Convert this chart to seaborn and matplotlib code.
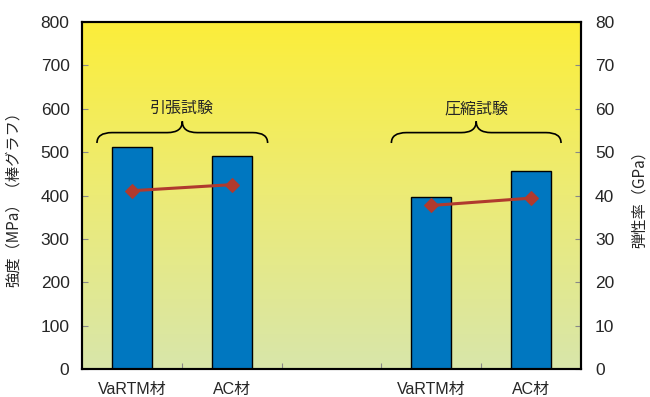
import numpy as np
import pandas as pd
import matplotlib
matplotlib.use("Agg")
import matplotlib.pyplot as plt
from matplotlib.path import Path
from matplotlib.patches import PathPatch
from matplotlib.colors import LinearSegmentedColormap
import seaborn as sns

# --- data ---------------------------------------------------------------
slots = ["引張_VaRTM", "引張_AC", "空白", "圧縮_VaRTM", "圧縮_AC"]
slot_labels = ["VaRTM材", "AC材", "", "VaRTM材", "AC材"]
bar_slots = ["引張_VaRTM", "引張_AC", "圧縮_VaRTM", "圧縮_AC"]
tests = ["引張試験", "引張試験", "圧縮試験", "圧縮試験"]
strength_mpa = [511, 492, 397, 456]
modulus_gpa = [41.1, 42.5, 37.7, 39.4]
group_titles = ["引張試験", "圧縮試験"]

left_ticks = list(range(0, 801, 100))
right_ticks = list(range(0, 81, 10))

df = pd.DataFrame({"slot": bar_slots, "test": tests,
                   "strength": strength_mpa, "modulus": modulus_gpa})
df["pos"] = [slots.index(s) for s in df["slot"]]

# --- style --------------------------------------------------------------
sns.set_theme(style="white")
plt.rcParams["font.family"] = ["Liberation Sans", "Noto Sans CJK JP"]
cjk = ["Noto Sans CJK JP", "Liberation Sans"]

fig = plt.figure(figsize=(6.5, 3.97), dpi=100)
ax = fig.add_axes([82 / 650, 28 / 397, 499 / 650, 347 / 397])

# yellow-to-pale-green background gradient
grad = np.linspace(0, 1, 256).reshape(-1, 1)
cmap = LinearSegmentedColormap.from_list("bg", ["#d8e6aa", "#eceb76", "#fcee3a"])
ax.imshow(grad, cmap=cmap, aspect="auto", origin="lower",
          extent=[0, 1, 0, 1], transform=ax.transAxes, zorder=0)

# strength bars
sns.barplot(data=df, x="slot", y="strength", order=slots, ax=ax,
            color="#0077c0", saturation=1, width=0.4,
            edgecolor="black", linewidth=1.0, zorder=2)

ax.set_xlim(-0.5, 4.5)
ax.set_ylim(0, 800)
ax.set_yticks(left_ticks)
ax.set_xticks(range(len(slots)))
ax.set_xticklabels(slot_labels, fontsize=11.5)
ax.set_xticks([0.5, 1.5, 2.5, 3.5], minor=True)
ax.tick_params(axis="x", which="major", length=0, pad=9)
ax.tick_params(axis="x", which="minor", direction="in", length=4,
               width=0.8, color="#888888", bottom=True)
ax.tick_params(axis="y", direction="in", length=4, width=0.8,
               color="#888888", labelsize=12.5, pad=9, left=True)
ax.set_xlabel("")
ax.set_ylabel("強度（MPa）（棒グラフ）", fontsize=11, family=cjk)
ax.yaxis.set_label_coords(-0.12, 0.5)

# modulus line on the secondary axis
ax2 = ax.twinx()
sns.lineplot(data=df, x="pos", y="modulus", hue="test",
             palette=["#b03a2e", "#b03a2e"], marker="D", markersize=7,
             markeredgecolor="#b03a2e", linewidth=2.2, legend=False,
             ax=ax2, zorder=3)
ax2.set_ylim(0, 80)
ax2.set_yticks(right_ticks)
ax2.set_xlim(-0.5, 4.5)
ax2.tick_params(axis="y", direction="in", length=4, width=0.8,
                color="#888888", labelsize=12.5, pad=10, right=True)
ax2.set_ylabel("弾性率（GPa）", fontsize=11, rotation=90, family=cjk)
ax2.yaxis.set_label_coords(1.1, 0.5)
ax2.set_xlabel("")

for a in (ax, ax2):
    for sp in a.spines.values():
        sp.set_color("black")
        sp.set_linewidth(1.5)


def brace(axis, x0, x1, xc, y_end, y_mid, y_tip, r=0.15):
    verts = [(x0, y_end), (x0, y_mid), (x0 + r, y_mid),
             (xc - r, y_mid),
             (xc, y_mid), (xc, y_tip),
             (xc, y_mid), (xc + r, y_mid),
             (x1 - r, y_mid),
             (x1, y_mid), (x1, y_end)]
    codes = [Path.MOVETO, Path.CURVE3, Path.CURVE3,
             Path.LINETO,
             Path.CURVE3, Path.CURVE3,
             Path.CURVE3, Path.CURVE3,
             Path.LINETO,
             Path.CURVE3, Path.CURVE3]
    axis.add_patch(PathPatch(Path(verts, codes), fill=False,
                             edgecolor="black", linewidth=1.2, zorder=4))


brace_spans = [(-0.35, 1.36, 0.505), (2.6, 4.3, 3.45)]
for (x0, x1, xc), title in zip(brace_spans, group_titles):
    brace(ax, x0, x1, xc, 521, 545, 571)
    ax.text(xc, 600, title, ha="center", va="center", fontsize=11.5,
            family=cjk, zorder=4)

fig.savefig("out.png", dpi=100)
